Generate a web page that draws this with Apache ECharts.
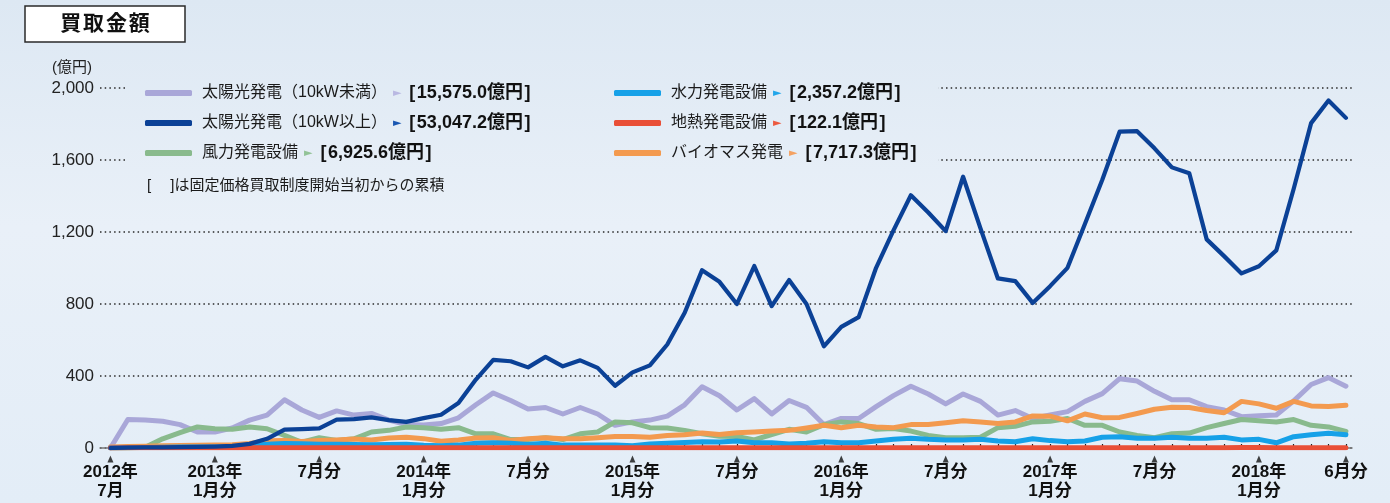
<!DOCTYPE html>
<html><head><meta charset="utf-8">
<script src="https://cdn.jsdelivr.net/npm/echarts@6/dist/echarts.min.js"></script>
<style>
html,body{margin:0;padding:0;width:1390px;height:503px;overflow:hidden;
background:linear-gradient(to bottom,#dde8f3 0%,#e9f0f8 45%,#e3edf7 100%);}
#c{width:1390px;height:503px;}
</style></head><body><div id="c"></div>
<script>
const months = ['2012-07','2012-08','2012-09','2012-10','2012-11','2012-12',
'2013-01','2013-02','2013-03','2013-04','2013-05','2013-06','2013-07','2013-08','2013-09','2013-10','2013-11','2013-12',
'2014-01','2014-02','2014-03','2014-04','2014-05','2014-06','2014-07','2014-08','2014-09','2014-10','2014-11','2014-12',
'2015-01','2015-02','2015-03','2015-04','2015-05','2015-06','2015-07','2015-08','2015-09','2015-10','2015-11','2015-12',
'2016-01','2016-02','2016-03','2016-04','2016-05','2016-06','2016-07','2016-08','2016-09','2016-10','2016-11','2016-12',
'2017-01','2017-02','2017-03','2017-04','2017-05','2017-06','2017-07','2017-08','2017-09','2017-10','2017-11','2017-12',
'2018-01','2018-02','2018-03','2018-04','2018-05','2018-06'];

const tickIndex  = [0,6,12,18,24,30,36,42,48,54,60,66,71];
const tickLabels = ['2012年\n7月','2013年\n1月分','7月分','2014年\n1月分','7月分','2015年\n1月分','7月分','2016年\n1月分','7月分','2017年\n1月分','7月分','2018年\n1月分','6月分'];
const yTicks = [0,400,800,1200,1600,2000];

const seriesNames = ['太陽光発電（10kW未満）','太陽光発電（10kW以上）','風力発電設備','水力発電設備','地熱発電設備','バイオマス発電'];
const totals = ['15,575.0','53,047.2','6,925.6','2,357.2','122.1','7,717.3'];

const solarSmall = [0,158,155,149,130,89,89,111,155,183,268,211,170,206,183,192,155,130,
128,136,168,240,306,264,217,225,189,225,189,126,145,155,177,240,340,290,
211,274,189,264,226,130,164,164,230,291,343,300,245,300,259,183,208,164,
183,202,259,302,385,372,315,268,268,230,211,174,179,183,262,353,391,343];
const solarLarge = [0,2,3,4,5,6,8,12,23,51,102,105,109,158,160,170,155,145,
166,185,250,380,490,482,448,506,454,487,445,346,420,459,575,751,988,923,
800,1011,788,933,800,565,673,727,1001,1209,1404,1308,1205,1507,1220,942,927,806,
899,1001,1245,1490,1758,1760,1665,1559,1526,1159,1066,970,1010,1098,1440,1805,1931,1834];
const wind = [0,0,4,51,85,117,107,104,117,107,70,32,57,42,51,89,98,117,
113,104,113,79,79,47,47,57,47,79,89,145,140,113,111,98,79,65,
64,45,75,104,89,130,145,136,104,108,94,70,57,57,60,113,121,145,
149,164,126,126,89,70,57,79,83,113,136,158,151,145,158,126,117,92];
const hydro = [2,3,3,4,5,5,6,7,12,21,25,23,21,21,20,18,20,21,
15,13,16,26,29,26,20,26,16,16,16,16,12,22,26,31,35,33,
39,29,29,22,26,35,29,29,39,48,54,48,45,45,48,39,35,51,
41,35,39,60,63,54,54,60,54,54,60,45,48,29,63,73,82,73];
const geothermal = [0,1,1,1,1,1,1,1,1,1,1,1,1,1,1,1,1,1,
1,1,1,1,1,2,2,2,2,1,1,2,2,2,2,2,2,2,
2,2,2,2,2,2,2,2,2,2,2,2,2,2,2,2,2,2,
2,2,2,2,2,2,2,2,2,2,2,3,3,2,2,2,2,2];
const biomass = [5,8,10,12,14,15,17,18,25,40,42,36,42,45,50,45,55,60,
52,38,45,55,57,42,51,57,51,51,57,64,64,60,70,74,83,75,
85,89,94,98,111,126,113,126,117,113,130,130,140,151,145,136,145,178,
177,151,189,168,170,192,215,226,225,208,196,259,245,221,259,234,230,238];

const values = [solarSmall, solarLarge, wind, hydro, geothermal, biomass];
const colors = ['#a9a7d8','#0b4196','#89ba8d','#16a1e8','#e94f37','#f39a4f'];
const triColors = ['#b9b8e2','#1957b2','#92c397','#22a6ea','#ec5a40','#f4a262'];
const drawOrder = [0,2,5,3,4,1];

const monthIdx = months.map((m,i)=>i);
const bgStops = [{offset:0,color:'#dde8f3'},{offset:0.45,color:'#e9f0f8'},{offset:1,color:'#e3edf7'}];

const FONT = "'Liberation Sans','Noto Sans CJK JP',sans-serif";
const NARROW = "'Liberation Sans Narrow','Liberation Sans','Noto Sans CJK JP',sans-serif";

const rich = {
  n:{fontSize:16,color:'#1a1a1a',fontFamily:FONT,padding:[0,0,0,5]},
  v:{fontSize:18,fontWeight:'bold',color:'#111',fontFamily:FONT}
};
triColors.forEach((c,k)=>{rich['t'+k]={fontSize:11,color:c,fontFamily:"'DejaVu Sans',sans-serif",padding:[0,8,0,6]};});

function legendFmt(name){
  const k = seriesNames.indexOf(name);
  return '{n|'+name+'}{t'+k+'|►}{v|[\u200A'+totals[k]+'億円\u200A]}';
}
function legendCfg(names,left){
  return {data:names,left:left,top:84,padding:0,orient:'vertical',icon:'roundRect',itemWidth:47,itemHeight:6,
    itemGap:12,formatter:legendFmt,textStyle:{rich:rich},selectedMode:false};
}

const series = drawOrder.map(k=>({
  name:seriesNames[k],type:'line',data:monthIdx.map(i=>[i,values[k][i]]),
  showSymbol:false,symbol:'none',
  lineStyle:{color:colors[k],width:k===1?4.2:5,cap:'round',join:'round'},
  itemStyle:{color:colors[k]},z:2
}));
series.push({type:'scatter',data:tickIndex.map(i=>[i,0]),symbol:'triangle',symbolSize:[6,7],
  symbolOffset:[0,11],itemStyle:{color:'#111'},silent:true,clip:false,z:5});

const chart = echarts.init(document.getElementById('c'),null,{renderer:'canvas'});
chart.setOption({
  animation:false,
  backgroundColor:'transparent',
  grid:{left:100,right:38,top:88,bottom:55},
  xAxis:{type:'value',min:-0.6,max:71.35,
    axisLine:{show:true,lineStyle:{color:'#777',width:1.5}},
    axisTick:{show:true,customValues:monthIdx,inside:true,length:4,lineStyle:{color:'#222',width:1.2}},
    splitLine:{show:false},
    axisLabel:{customValues:tickIndex,margin:15,fontSize:17,fontWeight:'bold',lineHeight:19,color:'#111',
      fontFamily:NARROW,formatter:v=>{const j=tickIndex.indexOf(Math.round(v));return j>=0?tickLabels[j]:'';}}
  },
  yAxis:{type:'value',min:0,max:2000,interval:400,
    axisLine:{show:false},axisTick:{show:false},
    axisLabel:{margin:6,fontSize:17,color:'#222',fontFamily:FONT,formatter:v=>v.toLocaleString('en-US')},
    splitLine:{show:true,lineStyle:{type:[1.5,3.2],color:'#2a2a2a',width:1.5}}
  },
  legend:[legendCfg(seriesNames.slice(0,3),145),legendCfg(seriesNames.slice(3),614)],
  graphic:{elements:[
    {type:'rect',z:1,silent:true,shape:{x:128,y:74,width:810,height:98},
      style:{fill:{type:'linear',x:0,y:0,x2:0,y2:503,global:true,colorStops:bgStops}}},
    {type:'rect',z:1,silent:true,shape:{x:25,y:6,width:160,height:36},style:{fill:'#ffffff',stroke:'#2a2a2a',lineWidth:1.5}},
    {type:'text',z:1,silent:true,x:105,y:24,style:{text:'買\u200A取\u200A金\u200A額',fontSize:21,fontWeight:'bold',fill:'#111',
      fontFamily:FONT,align:'center',verticalAlign:'middle'}},
    {type:'text',z:1,silent:true,x:52,y:68,style:{text:'(億円)',fontSize:15,fill:'#222',fontFamily:FONT,verticalAlign:'middle'}},
    {type:'text',z:1,silent:true,x:147,y:186,style:{text:'[　 ]は固定価格買取制度開始当初からの累積',fontSize:15,fill:'#1a1a1a',
      fontFamily:FONT,verticalAlign:'middle'}}
  ]},
  series:series
});
</script></body></html>
